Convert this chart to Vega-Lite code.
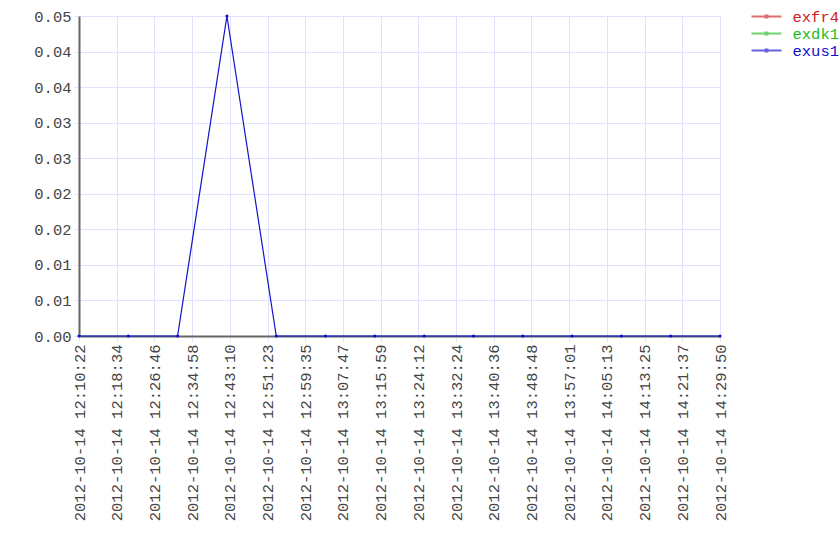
{
  "$schema": "https://vega.github.io/schema/vega-lite/v6.json",
  "autosize": "none",
  "width": 641,
  "height": 320,
  "padding": {"left": 79, "top": 16, "right": 120, "bottom": 224},
  "background": "white",
  "config": {
    "view": {"stroke": null},
    "font": "Liberation Mono",
    "axis": {"labelFont": "Liberation Mono", "labelFontSize": 15.5, "labelColor": "#444444", "gridColor": "#e0e0ff", "gridWidth": 1, "tickColor": "#e0e0ff", "tickSize": 5, "domainColor": "#666666", "domainWidth": 2, "titleFontSize": 0},
    "legend": {"labelFont": "Liberation Mono"}
  },
  "data": {"values": [
    {"time": "2012-10-14 12:10:22", "series": "exus1", "value": 0},
    {"time": "2012-10-14 12:21:06", "series": "exus1", "value": 0},
    {"time": "2012-10-14 12:31:49", "series": "exus1", "value": 0},
    {"time": "2012-10-14 12:42:33", "series": "exus1", "value": 0.05},
    {"time": "2012-10-14 12:53:17", "series": "exus1", "value": 0},
    {"time": "2012-10-14 13:04:00", "series": "exus1", "value": 0},
    {"time": "2012-10-14 13:14:44", "series": "exus1", "value": 0},
    {"time": "2012-10-14 13:25:28", "series": "exus1", "value": 0},
    {"time": "2012-10-14 13:36:12", "series": "exus1", "value": 0},
    {"time": "2012-10-14 13:46:55", "series": "exus1", "value": 0},
    {"time": "2012-10-14 13:57:39", "series": "exus1", "value": 0},
    {"time": "2012-10-14 14:08:23", "series": "exus1", "value": 0},
    {"time": "2012-10-14 14:19:06", "series": "exus1", "value": 0},
    {"time": "2012-10-14 14:29:50", "series": "exus1", "value": 0}
  ]},
  "mark": {"type": "line", "strokeWidth": 1.2, "point": {"filled": true, "size": 10}},
  "encoding": {
    "x": {
      "field": "time", "type": "temporal", "title": null,
      "scale": {"domain": [
        {"year": 2012, "month": 10, "date": 14, "hours": 12, "minutes": 10, "seconds": 22},
        {"year": 2012, "month": 10, "date": 14, "hours": 14, "minutes": 29, "seconds": 50}
      ], "nice": false},
      "axis": {
        "format": "%Y-%m-%d %H:%M:%S", "labelAngle": 270, "labelPadding": 3, "labelOverlap": false, "labelFlush": false, "labelBound": false,
        "values": [
          {"year": 2012, "month": 10, "date": 14, "hours": 12, "minutes": 10, "seconds": 22},
          {"year": 2012, "month": 10, "date": 14, "hours": 12, "minutes": 18, "seconds": 34},
          {"year": 2012, "month": 10, "date": 14, "hours": 12, "minutes": 26, "seconds": 46},
          {"year": 2012, "month": 10, "date": 14, "hours": 12, "minutes": 34, "seconds": 58},
          {"year": 2012, "month": 10, "date": 14, "hours": 12, "minutes": 43, "seconds": 10},
          {"year": 2012, "month": 10, "date": 14, "hours": 12, "minutes": 51, "seconds": 23},
          {"year": 2012, "month": 10, "date": 14, "hours": 12, "minutes": 59, "seconds": 35},
          {"year": 2012, "month": 10, "date": 14, "hours": 13, "minutes": 7, "seconds": 47},
          {"year": 2012, "month": 10, "date": 14, "hours": 13, "minutes": 15, "seconds": 59},
          {"year": 2012, "month": 10, "date": 14, "hours": 13, "minutes": 24, "seconds": 12},
          {"year": 2012, "month": 10, "date": 14, "hours": 13, "minutes": 32, "seconds": 24},
          {"year": 2012, "month": 10, "date": 14, "hours": 13, "minutes": 40, "seconds": 36},
          {"year": 2012, "month": 10, "date": 14, "hours": 13, "minutes": 48, "seconds": 48},
          {"year": 2012, "month": 10, "date": 14, "hours": 13, "minutes": 57, "seconds": 1},
          {"year": 2012, "month": 10, "date": 14, "hours": 14, "minutes": 5, "seconds": 13},
          {"year": 2012, "month": 10, "date": 14, "hours": 14, "minutes": 13, "seconds": 25},
          {"year": 2012, "month": 10, "date": 14, "hours": 14, "minutes": 21, "seconds": 37},
          {"year": 2012, "month": 10, "date": 14, "hours": 14, "minutes": 29, "seconds": 50}
        ]
      }
    },
    "y": {
      "field": "value", "type": "quantitative", "title": null,
      "scale": {"domain": [0, 0.05], "nice": false, "zero": true},
      "axis": {
        "format": ".2f", "labelPadding": 3, "labelFlush": false,
        "values": [0, 0.0055556, 0.0111111, 0.0166667, 0.0222222, 0.0277778, 0.0333333, 0.0388889, 0.0444444, 0.05]
      }
    },
    "color": {
      "field": "series", "type": "nominal", "title": null,
      "scale": {"domain": ["exfr4", "exdk1", "exus1"], "range": ["#cc2222", "#22bb22", "#1111cc"]},
      "legend": {
        "orient": "none", "legendX": 679, "legendY": -8,
        "symbolType": "M-2,0H2M-0.12,-0.12H0.12V0.12H-0.12Z",
        "symbolSize": 225, "symbolStrokeWidth": 2, "symbolOpacity": 0.65,
        "labelFontSize": 15.5, "labelOffset": 17.5, "rowPadding": -1,
        "encode": {"labels": {"update": {"fill": {"scale": "color", "field": "value"}}}}
      }
    }
  }
}
